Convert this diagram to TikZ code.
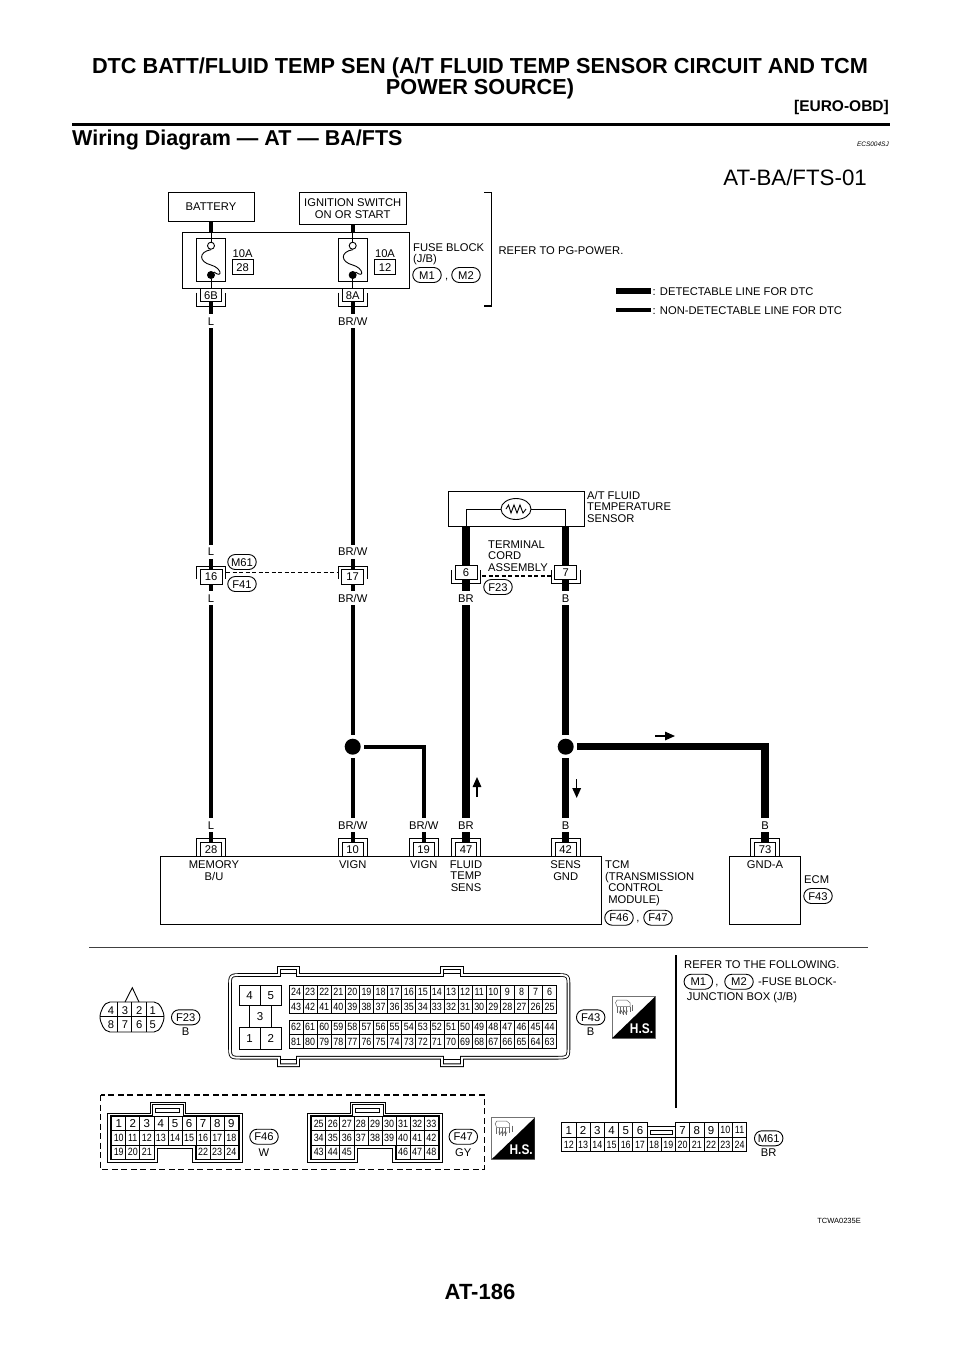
\documentclass[tikz,border=0pt]{standalone}
\usepackage{fontspec}
\setmainfont{Liberation Sans}
\newfontfamily\narrowf[FakeStretch=0.85]{Liberation Sans}
\usetikzlibrary{shapes.geometric,shapes.misc,calc,arrows.meta}
\newcommand\lbf{\fontsize{11.2}{11.5}\selectfont}
\newcommand\smf{\narrowf\fontsize{10.5}{11}\selectfont}
\newcommand\bgf{\fontsize{11.5}{12}\selectfont}
\tikzset{
  every node/.style={text=black},
  thinw/.style={draw=black,line width=3.6pt,line cap=butt},
  thickw/.style={draw=black,line width=7.3pt,line cap=butt},
  bx/.style={draw=black,line width=0.9pt,fill=white,inner sep=0pt,font=\lbf,align=center},
  ln/.style={draw=black,line width=0.9pt},
  wl/.style={font=\lbf,inner sep=0pt,minimum height=14pt,text height=8pt,text depth=0pt},
  tl/.style={font=\lbf,inner sep=0pt,text height=8pt,text depth=0pt},
  txt/.style={font=\lbf,inner sep=0pt,anchor=north west,align=left},
  txc/.style={font=\lbf,inner sep=0pt,anchor=north,align=center},
  oval/.style={rounded rectangle,draw=black,line width=0.9pt,fill=white,minimum width=28.5pt,minimum height=15pt,inner sep=0pt,font=\lbf,text height=8pt,text depth=0pt},
  junc/.style={circle,fill=black,minimum size=16pt,inner sep=0pt,outer sep=3.5pt},
  cell/.style={draw=black,line width=0.8pt,fill=white,inner sep=0pt,font=\smf,text height=7.5pt,text depth=0pt},
  cellb/.style={cell,font=\bgf,text height=8.2pt},
  dbl/.style={draw=black,line width=0.85pt,double=white,double distance=1.9pt,line join=miter},
  flow/.style={draw=black,line width=1.5pt,-{Triangle[length=10pt,width=8.5pt]}},
  dsh/.style={draw=black,line width=1.3pt,dash pattern=on 4pt off 2.5pt},
}
% connector: name, x, y, text, width, height, bracket tip y, bracket end y
\newcommand\conn[8]{%
  \node[bx,minimum width=#5pt,minimum height=#6pt] (#1) at (#2,#3) {#4};
  \draw[ln] (#2-14.5,#8) -- (#2-14.5,#7) -- (#2+14.5,#7) -- (#2+14.5,#8);
}
% a row of numbered cells
\newcommand\cellrow[7][cell]{%
  \foreach \n [count=\i from 0] in {#7} {\node[#1,minimum width=#5pt,minimum height=#6pt] (#2-\n) at ({#3+#5*(\i+0.5)},#4) {\n};}
}
% fuse
\newcommand\fuse[3]{%
  \node[bx,minimum width=29pt,minimum height=43.7pt] (#1) at (#2,259.85) {};
  \node[circle,draw=black,line width=0.9pt,fill=white,minimum size=7pt,inner sep=0pt] (#1o) at (#2,245.7) {};
  \node[circle,fill=black,minimum size=8pt,inner sep=0pt] (#1c) at (#2,275) {};
  \draw[ln] (#1o.north) -- (#1o.north |- fb.north);
  \draw[ln] (#1c.south) -- (#3.north);
  \draw[ln] (#1o.south) .. controls (#2-13,252) and (#2-12,262) .. (#2,265) .. controls (#2+11,268) and (#2+12,279) .. (#1c.north east);
}
% H.S. icon at top-left x,y
\newcommand\hsicon[3]{%
  \begin{scope}[shift={(#2,#3)}]
    \node[draw=black!55,line width=0.9pt,fill=white,minimum width=43pt,minimum height=41.5pt,inner sep=0pt] (#1) at (21.5,20.75) {};
    \fill[black] (43,0) -- (43,41.5) -- (0,41.5) -- cycle;
    \node[font=\narrowf\bfseries\fontsize{14}{14}\selectfont,text=white,inner sep=0pt] (#1t) at (29.5,31.5) {H.S.};
    \draw[black!60,line width=0.5pt] (3.5,6) -- (5,3.5) -- (15,3.5) -- (18,6) -- (18,10) -- (5,10) -- cycle;
    \draw[black!60,line width=0.5pt] (5,10) -- (5,16) (8,10) -- (8,17) (11,10) -- (11,18) (14,10) -- (14,18) (18,10) -- (18,15) (20.5,8) -- (20.5,14);
    \draw[black!60,line width=0.5pt] (7,14) -- (8,17) -- (9.5,14) -- (11,17) -- (12.5,14) -- (14,17) -- (15.5,14);
  \end{scope}
}
% F46/F47 housing
\newcommand\fhouse{%
  \draw[dbl] (109,1114.5) -- (151.5,1114.5) -- (151.5,1103.5) -- (184.5,1103.5) -- (184.5,1114.5) -- (241,1114.5) -- (241,1161) -- (193.7,1161) -- (193.7,1147) -- (156.3,1147) -- (156.3,1161) -- (109,1161) -- cycle;
  \draw[line width=1pt] (155.7,1108.3) rectangle (179.3,1112.5);
}
\begin{document}
\begin{tikzpicture}[x=1pt,y=-1pt]
\useasboundingbox (0,0) rectangle (960,1358);
\fill[white] (0,0) rectangle (960,1358);

% ---- page header
\node[font=\bfseries\fontsize{21.7}{19.5}\selectfont,align=center,inner sep=0pt,anchor=north] (title) at (480,57.5) {DTC BATT/FLUID TEMP SEN (A/T FLUID TEMP SENSOR CIRCUIT AND TCM\\POWER SOURCE)};
\node[font=\bfseries\fontsize{15.5}{16}\selectfont,inner sep=0pt,anchor=east] (euro) at (889,107) {[EURO-OBD]};
\coordinate (ruleL) at (72,124);
\coordinate (ruleR) at (890,124);
\draw[line width=3pt] (ruleL) -- (ruleR);
\node[font=\bfseries\fontsize{21.5}{22}\selectfont,inner sep=0pt,anchor=west] (wd) at (72,140) {Wiring Diagram — AT — BA/FTS};
\node[font=\itshape\fontsize{6.5}{7}\selectfont,inner sep=0pt,anchor=east] (ecs) at (889,144) {ECS004SJ};
\node[font=\fontsize{22.3}{24}\selectfont,inner sep=0pt,anchor=east] (atba) at (867,178) {AT-BA/FTS-01};

% ---- top blocks
\node[bx,minimum width=86pt,minimum height=28.5pt] (bat) at (211,207) {BATTERY};
\node[bx,minimum width=107pt,minimum height=31.5pt] (ign) at (352.7,208.5) {IGNITION SWITCH\\ON OR START};
\node[bx,minimum width=227pt,minimum height=56.5pt] (fb) at (295.5,260.2) {};
\draw[thinw] (bat.south) -- (bat.south |- fb.north);
\draw[thinw] (ign.south) -- (ign.south |- fb.north);
\conn{c6B}{211}{295.2}{6B}{21}{13}{306}{292.7}
\conn{c8A}{352.7}{295.2}{8A}{21}{13}{306}{292.7}
\fuse{fA}{211}{c6B}
\fuse{fB}{352.7}{c8A}
\node[tl] (a10a) at (242.7,253) {10A};
\node[cell,font=\lbf,text height=8pt,minimum width=21.5pt,minimum height=14.5pt] (f28) at (242.7,267) {28};
\node[tl] (a10b) at (385,253) {10A};
\node[cell,font=\lbf,text height=8pt,minimum width=21.5pt,minimum height=14.5pt] (f12) at (385,267) {12};
\node[txt] (fbt) at (413,243) {FUSE BLOCK\\(J/B)};
\node[oval] (fm1) at (427,275) {M1};
\node[tl] (fcomma) at (446.7,275) {,};
\node[oval] (fm2) at (466,275) {M2};
\coordinate (brA) at (484,192.7);
\coordinate (brB) at (484,306);
\draw[line width=1.1pt] (brA) -- (491.7,192.7) -- (491.7,306) -- (brB);
\node[tl,anchor=west] (refpg) at (498.3,250) {REFER TO PG-POWER.};

% ---- legend
\coordinate (legA) at (616,291);
\coordinate (legB) at (651,291);
\coordinate (legC) at (616,310);
\coordinate (legD) at (651,310);
\draw[line width=6.5pt] (legA) -- (legB);
\draw[line width=3.6pt] (legC) -- (legD);
\node[tl,anchor=west] (leg1) at (652.5,291) {: DETECTABLE LINE FOR DTC};
\node[tl,anchor=west] (leg2) at (652.5,310) {: NON-DETECTABLE LINE FOR DTC};

% ---- sensor
\node[bx,minimum width=136pt,minimum height=35pt] (sensor) at (516,508.5) {};
\node[ellipse,draw=black,line width=0.9pt,fill=white,minimum width=30pt,minimum height=21pt,inner sep=0pt] (res) at (516,509) {};
\draw[line width=0.9pt] (506,509) -- (508.5,505) -- (511,513) -- (514,505) -- (517,513) -- (520,505) -- (523,513) -- (526,509);
\node[txt] (sent) at (587,491) {A/T FLUID\\TEMPERATURE\\SENSOR};
\node[txt] (cord) at (488,540.5) {TERMINAL\\CORD\\ASSEMBLY};

% ---- inline connectors
\conn{c16}{211}{576.5}{16}{22}{15}{566}{579}
\conn{c17}{352.7}{576.5}{17}{22}{15}{566}{579}
\conn{c6}{466}{572.5}{6}{22}{13.5}{583}{570}
\conn{c7}{565.7}{572.5}{7}{22}{13.5}{583}{570}
\node[oval] (m61a) at (242,562) {M61};
\node[oval] (f41) at (242,584) {F41};
\node[oval] (f23a) at (498,587) {F23};
\coordinate (d16) at (226,572.7);
\coordinate (d17) at (338,572.7);
\coordinate (d6) at (482,576);
\coordinate (d7) at (551,576);
\draw[dsh] (d16) -- (d17);
\draw[dsh] (d6) -- (d7);

% ---- wire labels
\node[wl] (lA) at (211,321) {L};
\node[wl] (lB) at (211,551.7) {L};
\node[wl] (lC) at (211,598) {L};
\node[wl] (lD) at (211,825) {L};
\node[wl] (bA) at (352.7,321) {BR/W};
\node[wl] (bB) at (352.7,551.7) {BR/W};
\node[wl] (bC) at (352.7,598) {BR/W};
\node[wl] (bD) at (352.7,825) {BR/W};
\node[wl] (bE) at (423.7,825) {BR/W};
\node[wl] (rA) at (466,598) {BR};
\node[wl] (rB) at (466,825) {BR};
\node[wl] (kA) at (565.7,598) {B};
\node[wl] (kB) at (565.7,825) {B};
\node[wl] (kC) at (765,825) {B};

% ---- module boxes
\node[bx,minimum width=441.7pt,minimum height=67.6pt] (tcm) at (380.85,890.5) {};
\node[bx,minimum width=71.4pt,minimum height=67.6pt] (ecm) at (765,890.5) {};
\conn{c28}{211}{849.8}{28}{21}{13.8}{838.7}{856.7}
\conn{c10}{352.7}{849.8}{10}{21}{13.8}{838.7}{856.7}
\conn{c19}{423.7}{849.8}{19}{21}{13.8}{838.7}{856.7}
\conn{c47}{466}{849.8}{47}{21}{13.8}{838.7}{856.7}
\conn{c42}{565.7}{849.8}{42}{21}{13.8}{838.7}{856.7}
\conn{c73}{765}{849.8}{73}{21}{13.8}{838.7}{856.7}

% ---- junctions
\node[junc] (jR) at (352.7,746.7) {};
\node[junc] (jK) at (565.7,746.7) {};

% ---- wires
\draw[thinw] (c6B.south) -- (lA.north);
\draw[thinw] (lA.south) -- (lB.north);
\draw[thinw] (lB.south) -- (c16.north);
\draw[thinw] (c16.south) -- (lC.north);
\draw[thinw] (lC.south) -- (lD.north);
\draw[thinw] (lD.south) -- (c28.north);
\draw[thinw] (c8A.south) -- (bA.north);
\draw[thinw] (bA.south) -- (bB.north);
\draw[thinw] (bB.south) -- (c17.north);
\draw[thinw] (c17.south) -- (bC.north);
\draw[thinw] (bC.south) -- (jR.north);
\draw[thinw] (jR.south) -- (bD.north);
\draw[thinw] (bD.south) -- (c10.north);
\draw[thinw,line join=miter] (jR.east) -| (bE.north);
\draw[thinw] (bE.south) -- (c19.north);
\draw[thickw] (c6.north) -- (c6.north |- sensor.south);
\draw[thickw] (c7.north) -- (c7.north |- sensor.south);
\draw[thickw] (c6.south) -- (rA.north);
\draw[thickw] (rA.south) -- (rB.north);
\draw[thickw] (rB.south) -- (c47.north);
\draw[thickw] (c7.south) -- (kA.north);
\draw[thickw] (kA.south) -- (jK.north);
\draw[thickw] (jK.south) -- (kB.north);
\draw[thickw] (kB.south) -- (c42.north);
\draw[thickw,line join=miter] (jK.east) -| (kC.north);
\draw[thickw] (kC.south) -- (c73.north);
\draw[ln] (res.west) -| (c6.north |- sensor.south);
\draw[ln] (res.east) -| (c7.north |- sensor.south);

% ---- flow arrows
\coordinate (a1s) at (477,797);
\coordinate (a1e) at (477,777);
\coordinate (a2s) at (576.7,779);
\coordinate (a2e) at (576.7,798);
\coordinate (a3s) at (655,736);
\coordinate (a3e) at (675,736);
\draw[flow] (a1s) -- (a1e);
\draw[flow] (a2s) -- (a2e);
\draw[flow] (a3s) -- (a3e);

% ---- module pin labels
\node[txc] (tmem) at (214,860.5) {MEMORY\\B/U};
\node[txc] (tvig1) at (352.7,860.5) {VIGN};
\node[txc] (tvig2) at (423.7,860.5) {VIGN};
\node[txc] (tflu) at (466,860.5) {FLUID\\TEMP\\SENS};
\node[txc] (tsen) at (565.7,860.5) {SENS\\GND};
\node[txc] (tgnd) at (765,860.5) {GND-A};
\node[txt] (ttcm) at (605,860.5) {TCM\\(TRANSMISSION\\\ CONTROL\\\ MODULE)};
\node[oval] (f46a) at (619,917.7) {F46};
\node[tl] (tcomma) at (638,917.7) {,};
\node[oval] (f47a) at (658,917.7) {F47};
\node[tl,anchor=west] (tecm) at (804,879) {ECM};
\node[oval] (f43a) at (818,896) {F43};

% ---- lower section dividers
\coordinate (divL) at (89,947);
\coordinate (divR) at (868,947);
\coordinate (vT) at (676,955);
\coordinate (vB) at (676,1108);
\draw[line width=1pt,black!75] (divL) -- (divR);
\draw[line width=1.8pt] (vT) -- (vB);

% ---- F23 connector
\draw[ln] (125,1002) -- (132.3,987.7) -- (139,1002);
\draw[ln] (110,1002) -- (154,1002) .. controls (160,1002) and (164,1012) .. (164,1017) .. controls (164,1022) and (160,1032) .. (154,1032) -- (110,1032) .. controls (104,1032) and (100,1022) .. (100,1017) .. controls (100,1012) and (104,1002) .. (110,1002);
\draw[ln] (100,1016.7) -- (164,1016.7) (117.7,1002) -- (117.7,1032) (131.7,1002) -- (131.7,1032) (146.7,1002) -- (146.7,1032);
\foreach \t/\xx in {4/111,3/125,2/139.3,1/152.7}{\node[tl] (p23-\t) at (\xx,1010) {\t};}
\foreach \t/\xx in {8/111,7/125,6/139.3,5/152.7}{\node[tl] (p23-\t) at (\xx,1024) {\t};}
\node[oval] (f23b) at (185.7,1017.3) {F23};
\node[tl] (f23c) at (185.7,1031.7) {B};

% ---- F43 connector
\draw[dbl] (242,975) -- (279,975) -- (279,968) -- (298,968) -- (298,975) -- (442,975) -- (442,968) -- (462,968) -- (462,975) -- (556,975) .. controls (568.5,975) .. (568.5,987) -- (568.5,1045) .. controls (568.5,1057.7) .. (556,1057.7) -- (462,1057.7) -- (462,1065.2) -- (442,1065.2) -- (442,1057.7) -- (298,1057.7) -- (298,1065.2) -- (279,1065.2) -- (279,1057.7) -- (242,1057.7) .. controls (230,1057.7) .. (230,1045) -- (230,987) .. controls (230,975) .. cycle;
\draw[ln] (280.5,973.5) -- (296.5,973.5) (443.5,973.5) -- (460.5,973.5) (280.5,1059.2) -- (296.5,1059.2) (443.5,1059.2) -- (460.5,1059.2);
\node[cellb,minimum width=21.2pt,minimum height=20.7pt] (b4) at (249.6,995.35) {4};
\node[cellb,minimum width=21.7pt,minimum height=20.7pt] (b5) at (270.85,995.35) {5};
\node[cellb,minimum width=21.7pt,minimum height=21.6pt] (b3) at (260.15,1016.5) {3};
\node[cellb,minimum width=21.2pt,minimum height=21.7pt] (b1) at (249.6,1038.15) {1};
\node[cellb,minimum width=21.7pt,minimum height=21.7pt] (b2) at (270.85,1038.15) {2};
\cellrow{g}{289}{992.15}{14.09}{14.3}{24,23,22,21,20,19,18,17,16,15,14,13,12,11,10,9,8,7,6}
\cellrow{g}{289}{1006.3}{14.09}{14}{43,42,41,40,39,38,37,36,35,34,33,32,31,30,29,28,27,26,25}
\cellrow{g}{289}{1027.15}{14.09}{14.3}{62,61,60,59,58,57,56,55,54,53,52,51,50,49,48,47,46,45,44}
\cellrow{g}{289}{1041.3}{14.09}{14}{81,80,79,78,77,76,75,74,73,72,71,70,69,68,67,66,65,64,63}
\node[oval] (f43b) at (590.7,1017.3) {F43};
\node[tl] (f43c) at (590.7,1031) {B};
\hsicon{hsA}{612}{996.7}

% ---- right note
\node[tl,anchor=west] (rn1) at (684,964) {REFER TO THE FOLLOWING.};
\node[oval] (rm1) at (698.3,981.7) {M1};
\node[tl] (rcomma) at (717,981.7) {,};
\node[oval] (rm2) at (739,981.7) {M2};
\node[tl,anchor=west] (rn2) at (758,981.7) {-FUSE BLOCK-};
\node[tl,anchor=west] (rn3) at (686.7,996.7) {JUNCTION BOX (J/B)};

% ---- F46 / F47 frame and housings
\draw[dsh,line width=1.3pt,dash pattern=on 6pt off 3.5pt] (100.7,1095) rectangle (484.3,1169.3);
\fhouse
\begin{scope}[xshift=200pt]\fhouse\end{scope}
\cellrow[cellb]{h}{111.7}{1123.7}{14.07}{14}{1,2,3,4,5,6,7,8,9}
\cellrow{h}{111.7}{1137.8}{14.07}{14.3}{10,11,12,13,14,15,16,17,18}
\cellrow{h}{111.7}{1152}{14.07}{14}{19,20,21}
\cellrow{h}{196.1}{1152}{14.07}{14}{22,23,24}
\cellrow{k}{311.7}{1123.7}{14.07}{14}{25,26,27,28,29,30,31,32,33}
\cellrow{k}{311.7}{1137.8}{14.07}{14.3}{34,35,36,37,38,39,40,41,42}
\cellrow{k}{311.7}{1152}{14.07}{14}{43,44,45}
\cellrow{k}{396.1}{1152}{14.07}{14}{46,47,48}
\node[oval] (f46b) at (264,1136.7) {F46};
\node[tl] (f46c) at (264,1152) {W};
\node[oval] (f47b) at (463.3,1136.7) {F47};
\node[tl] (f47c) at (463.3,1152) {GY};
\hsicon{hsB}{491.7}{1117.7}

% ---- M61 connector
\cellrow[cellb]{m}{561.7}{1130}{14.23}{14.6}{1,2,3,4,5,6}
\cellrow[cellb]{m}{675.54}{1130}{14.23}{14.6}{7,8,9}
\cellrow{m}{718.23}{1130}{14.23}{14.6}{10,11}
\cellrow{m}{561.7}{1144.5}{14.23}{14.4}{12,13,14,15,16,17,18,19,20,21,22,23,24}
\draw[ln] (647.1,1126.7) -- (675.5,1126.7);
\draw[line width=1pt] (650.7,1130) rectangle (672.7,1134.3);
\node[oval] (m61b) at (768.7,1138.3) {M61};
\node[tl] (m61c) at (768.7,1152.3) {BR};

% ---- footer
\node[font=\fontsize{7.5}{8}\selectfont,inner sep=0pt,anchor=east] (tcwa) at (861,1221) {TCWA0235E};
\node[font=\bfseries\fontsize{22}{24}\selectfont,inner sep=0pt] (page) at (480,1292) {AT-186};
\end{tikzpicture}
\end{document}
